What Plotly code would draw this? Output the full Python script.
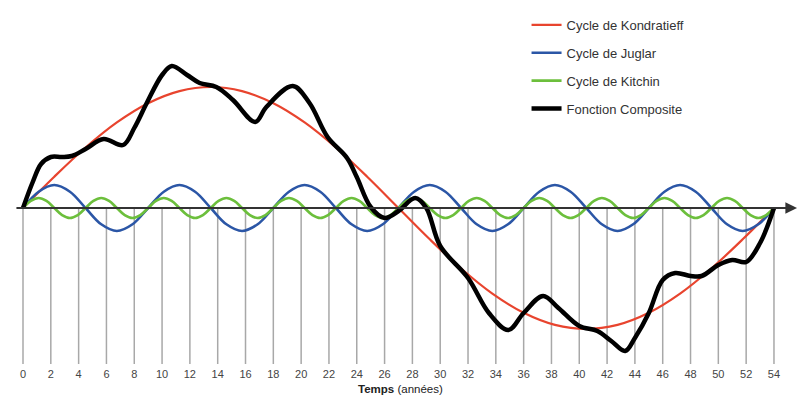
import numpy as np
import plotly.graph_objects as go

# ---- data ----
tick_years = list(range(0, 56, 2))

# Kondratieff cycle, sampled every 2.25 years
kond_x = [i * 2.25 for i in range(25)]
kond_y = [0, 3.13, 6.05, 8.56, 10.48, 11.69, 12.1, 11.69, 10.48, 8.56, 6.05, 3.13,
          0, -3.13, -6.05, -8.56, -10.48, -11.69, -12.1, -11.69, -10.48, -8.56, -6.05, -3.13, 0]

# Juglar cycle, sampled every 1.125 years
jug_x = [i * 1.125 for i in range(49)]
jug_y = [0, 1.63, 2.3, 1.63, 0, -1.63, -2.3, -1.63,
         0, 1.63, 2.3, 1.63, 0, -1.63, -2.3, -1.63,
         0, 1.63, 2.3, 1.63, 0, -1.63, -2.3, -1.63,
         0, 1.63, 2.3, 1.63, 0, -1.63, -2.3, -1.63,
         0, 1.63, 2.3, 1.63, 0, -1.63, -2.3, -1.63,
         0, 1.63, 2.3, 1.63, 0, -1.63, -2.3, -1.63, 0]

# Kitchin cycle, sampled every 0.5625 years
kit_x = [i * 0.5625 for i in range(97)]
kit_y = [0, 0.71, 1, 0.71, 0, -0.71, -1, -0.71,
         0, 0.71, 1, 0.71, 0, -0.71, -1, -0.71,
         0, 0.71, 1, 0.71, 0, -0.71, -1, -0.71,
         0, 0.71, 1, 0.71, 0, -0.71, -1, -0.71,
         0, 0.71, 1, 0.71, 0, -0.71, -1, -0.71,
         0, 0.71, 1, 0.71, 0, -0.71, -1, -0.71,
         0, 0.71, 1, 0.71, 0, -0.71, -1, -0.71,
         0, 0.71, 1, 0.71, 0, -0.71, -1, -0.71,
         0, 0.71, 1, 0.71, 0, -0.71, -1, -0.71,
         0, 0.71, 1, 0.71, 0, -0.71, -1, -0.71,
         0, 0.71, 1, 0.71, 0, -0.71, -1, -0.71,
         0, 0.71, 1, 0.71, 0, -0.71, -1, -0.71, 0]

# Composite function
comp_x = [0, 0.7, 1.3, 2, 2.8, 3.5, 4.5, 5.8, 7.2, 8, 8.9, 10, 10.7, 11.8, 12.7, 13.9,
          15.1, 16.7, 17.5, 19.4, 20.6, 21.9, 23.3, 24, 25, 26, 27, 28.2, 29, 30,
          32, 33.5, 34.9, 36, 37.4, 38.5, 40, 41.3, 42.3, 43.3, 44, 45, 46, 46.9,
          48, 48.8, 50, 51, 52, 53, 54]
comp_y = [0, 2.6, 4.4, 5.1, 5.1, 5.2, 5.9, 6.9, 6.3, 8.0, 10.5, 13.3, 14.2, 13.3, 12.5, 12.1,
          10.8, 8.6, 10.1, 12.2, 10.5, 7.1, 5.0, 3.1, 0.1, -1.0, -0.3, 1.0, 0.0, -3.8,
          -7.0, -10.5, -12.2, -10.5, -8.8, -10.0, -11.8, -12.3, -13.3, -14.3, -13.0, -10.5, -7.2, -6.5,
          -6.8, -6.8, -5.7, -5.2, -5.4, -3.5, 0]

names = ["Cycle de Kondratieff", "Cycle de Juglar", "Cycle de Kitchin", "Fonction Composite"]
colors = ["#e8442e", "#2b56a6", "#6cbf3c", "#000000"]
widths = [2.2, 2.6, 2.6, 4.5]

fig = go.Figure()
series = [(kond_x, kond_y), (jug_x, jug_y), (kit_x, kit_y), (comp_x, comp_y)]
for i, (xs, ys) in enumerate(series):
    fig.add_trace(go.Scatter(
        x=xs, y=ys, mode="lines", name=names[i], legendgroup=f"g{i}",
        line=dict(color=colors[i], width=widths[i], shape="spline", smoothing=1.0),
        hoverinfo="skip"))

ymin, ymax = -15.6, 20.8
shapes = []
for t in tick_years:
    shapes.append(dict(type="line", xref="x", yref="y", x0=t, x1=t, y0=0, y1=ymin,
                       line=dict(color="#a8a8a8", width=1.5), layer="below"))

annotations = [
    dict(x=55.66, y=0, ax=-0.58, ay=0, xref="x", yref="y", axref="x", ayref="y",
         text="", showarrow=True, arrowhead=2, arrowsize=1.3, arrowwidth=1.8,
         arrowcolor="#333333"),
    dict(x=400 / 799, y=-0.0915, xref="paper", yref="paper", xanchor="center", yanchor="bottom",
         text="<b>Temps</b> (années)", showarrow=False,
         font=dict(family="Liberation Sans, Arial", size=11.5, color="#222222")),
]

fig.update_layout(
    width=799, height=397,
    margin=dict(l=0, r=0, t=0, b=33, pad=0, autoexpand=False),
    paper_bgcolor="white", plot_bgcolor="white",
    showlegend=True,
    legend=dict(x=0.659, y=0.973, xanchor="left", yanchor="top",
                font=dict(family="Liberation Sans, Arial", size=13, color="#333333"),
                tracegroupgap=8, bgcolor="rgba(0,0,0,0)"),
    xaxis=dict(range=[-1.654, 55.8], tickmode="array", tickvals=tick_years,
               ticktext=[str(t) for t in tick_years], showgrid=False, zeroline=False,
               showline=False, ticks="", automargin=False, ticklabelstandoff=2,
               tickfont=dict(family="Liberation Sans, Arial", size=11, color="#444444")),
    yaxis=dict(range=[ymin, ymax], showgrid=False, zeroline=False, showline=False,
               showticklabels=False, ticks="", automargin=False),
    shapes=shapes,
    annotations=annotations,
)

fig.write_html("out.html", config={"displayModeBar": False},
               post_script="document.body.style.margin='0';")
